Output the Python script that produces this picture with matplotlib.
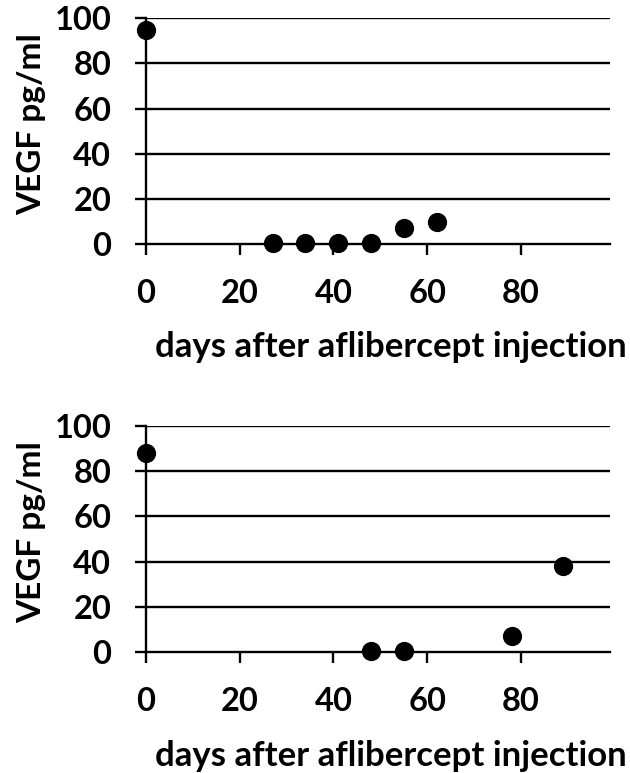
import matplotlib
matplotlib.use("Agg")
import matplotlib.pyplot as plt

plt.rcParams["font.family"] = ["Lato", "DejaVu Sans"]
plt.rcParams["font.weight"] = "bold"

# Data
days_top = [0, 27, 34, 41, 48, 55, 62]
vegf_top = [95, 0.5, 0.5, 0.5, 0.5, 7, 10]

days_bottom = [0, 48, 55, 78, 89]
vegf_bottom = [88, 0.5, 0.5, 7, 38]

x_ticks = [0, 20, 40, 60, 80]
y_ticks = [0, 20, 40, 60, 80, 100]

fig = plt.figure(figsize=(6.3, 7.73), dpi=100)
ax_top = fig.add_axes([0.2317, 0.684, 0.7366, 0.2924])
ax_bot = fig.add_axes([0.2317, 0.1561, 0.7366, 0.2932])

for ax, xs, ys in [(ax_top, days_top, vegf_top), (ax_bot, days_bottom, vegf_bottom)]:
    ax.set_xlim(0, 99)
    ax.set_ylim(0, 100)
    ax.set_yticks(y_ticks)
    ax.set_xticks(x_ticks)
    for y in y_ticks[1:]:
        ax.axhline(y, color="black", lw=1.7, zorder=1)
    for side in ["top", "right"]:
        ax.spines[side].set_visible(False)
    ax.spines["left"].set_linewidth(1.7)
    ax.spines["bottom"].set_linewidth(1.7)
    ax.tick_params(axis="x", direction="out", length=8, width=1.7, pad=17, labelsize=23.5)
    ax.tick_params(axis="y", direction="out", length=8, width=1.7, pad=17, labelsize=23.5)
    for lbl in ax.get_xticklabels() + ax.get_yticklabels():
        lbl.set_fontweight("bold")
    ax.scatter(xs, ys, s=165, color="black", zorder=5, clip_on=False)
    ax.set_ylabel("VEGF pg/ml", fontsize=24, fontweight="bold")
    ax.yaxis.set_label_coords(-0.215, 0.53)
    ax.set_xlabel("days after aflibercept injection", fontsize=25, fontweight="bold")
    ax.xaxis.set_label_coords(0.528, -0.385)

fig.savefig("out.png", dpi=100)
